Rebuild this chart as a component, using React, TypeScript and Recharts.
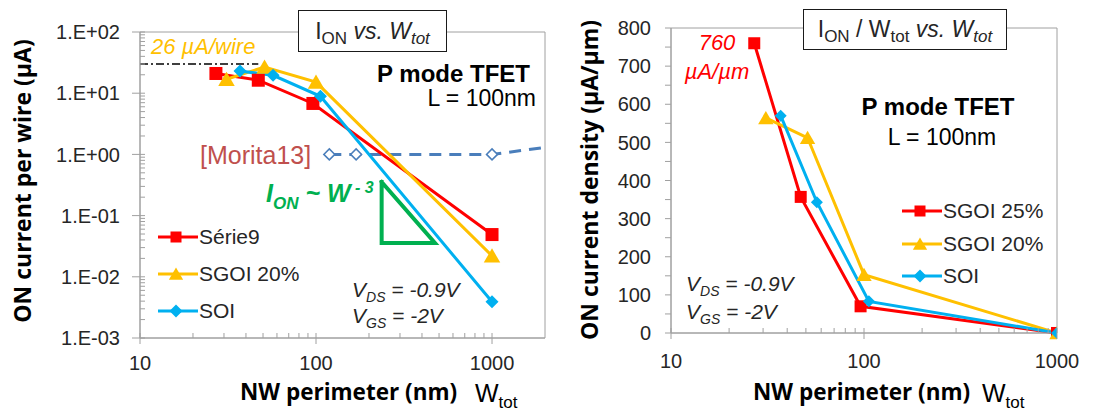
import React from 'react';
import { ComposedChart, Line, XAxis, YAxis, ReferenceArea, ReferenceLine, Legend } from 'recharts';

// NW perimeter (nm) of each device family
const perimSgoi25 = [27, 47, 96, 1000];
const perimSgoi20 = [31, 51, 100, 1000];
const perimSoi = [37, 57, 106, 1000];

// ON current per wire (uA)
const ionSgoi25 = [21, 16.3, 6.8, 0.049];
const ionSgoi20 = [16.9, 26.8, 15.2, 0.022];
const ionSoi = [23, 19.6, 8.9, 0.0039];

// [Morita13] reference points (last one only carries the line to the edge)
const perimMorita = [119, 169, 1000, 2000];
const ionMorita = [1.0, 1.0, 1.0, 1.3];

// 26 uA/wire marker and the W^-3 slope triangle
const limitPerim = [10, 47];
const limitIon = 30;
const slopePerim = [236, 236, 474, 236];
const slopeIon = [0.354, 0.0357, 0.0357, 0.354];

// ON current density (uA/um)
const densSgoi25 = [760, 357, 70, 0.05];
const densSgoi20 = [564, 512, 153, 0.02];
const densSoi = [570, 343, 83, 0.004];

// ticks
const leftYMajor = [0.001, 0.01, 0.1, 1, 10, 100];
const logXMajor = [10, 100, 1000];
const rightYTicks = [0, 50, 100, 150, 200, 250, 300, 350, 400, 450, 500, 550, 600, 650, 700, 750, 800];
const rightYLabels = [0, 100, 200, 300, 400, 500, 600, 700, 800];

const ARIAL = '"Liberation Sans", Arial, sans-serif';
const OPEN = '"Open Sans", sans-serif';
const AXIS = '#a0a0a0';
const TEXT = '#262626';
const RED = '#ff0000';
const YEL = '#ffc000';
const BLUE = '#00b0f0';
const MORITA = '#4a7ebb';
const GREEN = '#00b050';

const pts = (xs: number[], ys: number[]) => xs.map((x, i) => ({ x, y: ys[i] }));

const withMinors = (majors: number[], max: number) => {
  const out: number[] = [];
  majors.forEach((m) => {
    out.push(m);
    [2, 3, 4, 5, 6, 7, 8, 9].forEach((k) => {
      const v = m * k;
      if (v < max) out.push(v);
    });
  });
  return out;
};
const isPow10 = (v: number) => Math.abs(Math.log10(v) - Math.round(Math.log10(v))) < 1e-9;
const sci = (v: number) => {
  const e = Math.round(Math.log10(v));
  return `1.E${e < 0 ? '-' : '+'}${String(Math.abs(e)).padStart(2, '0')}`;
};

const leftYTicks = withMinors(leftYMajor, 100.5);
const leftXTicks = withMinors(logXMajor, 1999);
const rightXTicks = withMinors(logXMajor, 1001);

// ---- tick renderers ----
const LogYTick = (p: any) => {
  const { x, y, payload } = p;
  const major = isPow10(payload.value);
  return (
    <g>
      <line x1={major ? x - 8 : x} x2={x + 5} y1={y} y2={y} stroke={AXIS} />
      {major && (
        <text x={x - 20} y={y} dy="0.36em" textAnchor="end" fontSize={20} fontFamily={ARIAL} fill={TEXT}>
          {sci(payload.value)}
        </text>
      )}
    </g>
  );
};

const LogXTick = (gap: number) => (p: any) => {
  const { x, y, payload } = p;
  const major = isPow10(payload.value);
  return (
    <g>
      <line x1={x} x2={x} y1={y - 5} y2={major ? y + 6 : y} stroke={AXIS} />
      {major && (
        <text x={x} y={y + gap} dy="0.36em" textAnchor="middle" fontSize={20} fontFamily={ARIAL} fill={TEXT}>
          {payload.value}
        </text>
      )}
    </g>
  );
};

const LinYTick = (p: any) => {
  const { x, y, payload } = p;
  const labelled = rightYLabels.includes(payload.value);
  return (
    <g>
      <line x1={x - 6} x2={x} y1={y} y2={y} stroke={AXIS} />
      {labelled && (
        <text x={x - 20} y={y} dy="0.36em" textAnchor="end" fontSize={20} fontFamily={ARIAL} fill={TEXT}>
          {payload.value}
        </text>
      )}
    </g>
  );
};

// ---- markers ----
const Marker = ({ kind, cx, cy, s, color }: any) => {
  if (kind === 'square') return <rect x={cx - s / 2} y={cy - s / 2} width={s} height={s} fill={color} />;
  if (kind === 'triangle')
    return <polygon points={`${cx},${cy - s * 0.5} ${cx + s * 0.55},${cy + s * 0.45} ${cx - s * 0.55},${cy + s * 0.45}`} fill={color} />;
  if (kind === 'hollow')
    return (
      <polygon
        points={`${cx},${cy - s / 2} ${cx + s / 2},${cy} ${cx},${cy + s / 2} ${cx - s / 2},${cy}`}
        fill="#fff"
        stroke={color}
        strokeWidth={1.5}
      />
    );
  return <polygon points={`${cx},${cy - s / 2} ${cx + s / 2},${cy} ${cx},${cy + s / 2} ${cx - s / 2},${cy}`} fill={color} />;
};

const dotOf = (kind: string, s: number, color: string, upto = 99) => (p: any) =>
  p.index < upto ? (
    <Marker key={p.index} kind={kind} cx={p.cx} cy={p.cy} s={s} color={color} />
  ) : (
    <g key={p.index} />
  );

const LegendList = ({ items, rowH }: any) => (
  <div style={{ fontFamily: ARIAL, fontSize: 21, color: TEXT }}>
    {items.map((it: any) => (
      <div key={it.name} style={{ display: 'flex', alignItems: 'center', height: rowH }}>
        <svg width={40} height={16} style={{ marginRight: 1 }}>
          <line x1={0} x2={40} y1={8} y2={8} stroke={it.color} strokeWidth={3} />
          <Marker kind={it.kind} cx={18} cy={8} s={it.kind === 'square' ? 11 : 13} color={it.color} />
        </svg>
        <span>{it.name}</span>
      </div>
    ))}
  </div>
);

// ---- html annotations ----
const Note = ({ x, y, size, anchor = 'start', family = ARIAL, weight = 400, italic = false, color = TEXT, k = 0.49, children }: any) => (
  <div
    style={{
      position: 'absolute',
      left: x,
      top: y - k * size,
      fontSize: size,
      fontFamily: family,
      fontWeight: weight,
      fontStyle: italic ? 'italic' : 'normal',
      color,
      lineHeight: 1,
      whiteSpace: 'nowrap',
      transform: anchor === 'middle' ? 'translateX(-50%)' : anchor === 'end' ? 'translateX(-100%)' : undefined,
    }}
  >
    {children}
  </div>
);

const Sub = ({ size, dy, children, style }: any) => (
  <span style={{ fontSize: size, position: 'relative', top: dy, ...style }}>{children}</span>
);

const Box = ({ x, y, w, h, children }: any) => (
  <div
    style={{
      position: 'absolute',
      left: x,
      top: y,
      width: w,
      height: h,
      boxSizing: 'border-box',
      border: '1.5px solid #1a1a1a',
      background: '#fff',
      display: 'flex',
      alignItems: 'center',
      justifyContent: 'center',
      fontFamily: ARIAL,
      fontSize: 23,
      color: TEXT,
      whiteSpace: 'nowrap',
      lineHeight: 1,
    }}
  >
    <span>{children}</span>
  </div>
);

const YTitle = ({ x, y, children }: any) => (
  <div
    style={{
      position: 'absolute',
      left: x,
      top: y,
      transform: 'translate(-50%, -50%) rotate(-90deg)',
      fontFamily: OPEN,
      fontWeight: 700,
      fontSize: 23,
      color: '#000',
      whiteSpace: 'nowrap',
      lineHeight: 1.2,
    }}
  >
    {children}
  </div>
);

const Vgs = ({ x, y1, y2 }: any) => (
  <>
    <Note x={x} y={y1} size={21} italic>
      V<Sub size={14} dy={5}>DS</Sub> = -0.9V
    </Note>
    <Note x={x} y={y2} size={21} italic>
      V<Sub size={14} dy={5}>GS</Sub> = -2V
    </Note>
  </>
);

const XTitle = ({ x, wx, y }: any) => (
  <>
    <Note x={x} y={y} size={22.5} family={OPEN} weight={700} color="#000" k={0.531}>
      NW perimeter (nm)
    </Note>
    <Note x={wx} y={y} size={25} color="#000">
      W<Sub size={17} dy={6}>tot</Sub>
    </Note>
  </>
);

const leftLegend = [
  { name: 'Série9', color: RED, kind: 'square' },
  { name: 'SGOI 20%', color: YEL, kind: 'triangle' },
  { name: 'SOI', color: BLUE, kind: 'diamond' },
];
const rightLegend = [
  { name: 'SGOI 25%', color: RED, kind: 'square' },
  { name: 'SGOI 20%', color: YEL, kind: 'triangle' },
  { name: 'SOI', color: BLUE, kind: 'diamond' },
];

export default function App() {
  return (
    <div style={{ position: 'absolute', left: 0, top: 0, width: 1108, height: 414, background: '#fff', overflow: 'hidden' }}>
      <div style={{ position: 'absolute', left: 0, top: 0 }}>
        <ComposedChart width={560} height={414} margin={{ top: 32, right: 15, bottom: 0, left: 0 }}>
          <XAxis
            type="number"
            dataKey="x"
            scale="log"
            domain={[10, 2000]}
            allowDataOverflow
            ticks={leftXTicks}
            interval={0}
            height={76}
            axisLine={{ stroke: AXIS }}
            tickLine={false}
            tickSize={0}
            tickMargin={0}
            tick={LogXTick(25)}
          />
          <YAxis
            type="number"
            scale="log"
            domain={[0.001, 100]}
            allowDataOverflow
            ticks={leftYTicks}
            interval={0}
            width={140}
            axisLine={{ stroke: AXIS }}
            tickLine={false}
            tickSize={0}
            tickMargin={0}
            tick={LogYTick}
          />
          <ReferenceArea x1={10} x2={2000} y1={0.001} y2={100} fill="none" stroke={AXIS} />
          <ReferenceLine
            segment={[
              { x: limitPerim[0], y: limitIon },
              { x: limitPerim[1], y: limitIon },
            ]}
            stroke="#000"
            strokeWidth={1.5}
            strokeDasharray="8 3 2 3"
          />
          <Line
            data={pts(perimMorita, ionMorita)}
            dataKey="y"
            stroke={MORITA}
            strokeWidth={3}
            strokeDasharray="12 8"
            dot={dotOf('hollow', 11, MORITA, 3)}
            isAnimationActive={false}
          />
          <Line
            data={pts(slopePerim, slopeIon)}
            dataKey="y"
            stroke={GREEN}
            strokeWidth={4}
            strokeLinecap="square"
            dot={false}
            isAnimationActive={false}
          />
          <Line data={pts(perimSgoi25, ionSgoi25)} dataKey="y" stroke={RED} strokeWidth={3} dot={dotOf('square', 13, RED)} isAnimationActive={false} />
          <Line data={pts(perimSgoi20, ionSgoi20)} dataKey="y" stroke={YEL} strokeWidth={3} dot={dotOf('triangle', 15, YEL)} isAnimationActive={false} />
          <Line data={pts(perimSoi, ionSoi)} dataKey="y" stroke={BLUE} strokeWidth={3} dot={dotOf('diamond', 13, BLUE)} isAnimationActive={false} />
          <Legend
            layout="horizontal"
            align="center"
            verticalAlign="middle"
            wrapperStyle={{ left: 158, top: 218, width: 'auto', height: 'auto' }}
            content={() => <LegendList items={leftLegend} rowH={37} />}
          />
        </ComposedChart>
      </div>

      <div style={{ position: 'absolute', left: 560, top: 0 }}>
        <ComposedChart width={548} height={414} margin={{ top: 28, right: 51, bottom: 0, left: 0 }}>
          <XAxis
            type="number"
            dataKey="x"
            scale="log"
            domain={[10, 1000]}
            allowDataOverflow
            ticks={rightXTicks}
            interval={0}
            height={81}
            axisLine={{ stroke: AXIS }}
            tickLine={false}
            tickSize={0}
            tickMargin={0}
            tick={LogXTick(28)}
          />
          <YAxis
            type="number"
            domain={[0, 800]}
            ticks={rightYTicks}
            interval={0}
            width={111}
            axisLine={{ stroke: AXIS }}
            tickLine={false}
            tickSize={0}
            tickMargin={0}
            tick={LinYTick}
          />
          <ReferenceArea x1={10} x2={1000} y1={0} y2={800} fill="none" stroke={AXIS} />
          <Line data={pts(perimSgoi25, densSgoi25)} dataKey="y" stroke={RED} strokeWidth={3} dot={dotOf('square', 12, RED)} isAnimationActive={false} />
          <Line data={pts(perimSgoi20, densSgoi20)} dataKey="y" stroke={YEL} strokeWidth={3} dot={dotOf('triangle', 14, YEL)} isAnimationActive={false} />
          <Line data={pts(perimSoi, densSoi)} dataKey="y" stroke={BLUE} strokeWidth={3} dot={dotOf('diamond', 12, BLUE)} isAnimationActive={false} />
          <Legend
            layout="horizontal"
            align="center"
            verticalAlign="middle"
            wrapperStyle={{ left: 342, top: 195, width: 'auto', height: 'auto' }}
            content={() => <LegendList items={rightLegend} rowH={32.5} />}
          />
        </ComposedChart>
      </div>

      {/* left panel annotations */}
      <YTitle x={23} y={181}>ON current per wire (µA)</YTitle>
      <XTitle x={240} wx={475} y={393} />
      <Box x={298} y={10} w={149} h={42}>
        I<Sub size={17} dy={5}>ON</Sub> <i>vs. W<Sub size={17} dy={5}>tot</Sub></i>
      </Box>
      <Note x={151} y={47} size={22} italic color={YEL}>26 µA/wire</Note>
      <Note x={200} y={155} size={25} color="#c0504d">[Morita13]</Note>
      <Note x={530} y={74} size={24} weight={700} anchor="end" color="#000">P mode TFET</Note>
      <Note x={536} y={98} size={23} anchor="end" color="#000">L = 100nm</Note>
      <Note x={266} y={193} size={25} weight={700} italic color={GREEN}>
        I<Sub size={17} dy={7}>ON</Sub> ~ W<Sub size={16} dy={-9}> - 3</Sub>
      </Note>
      <Vgs x={352} y1={289} y2={315} />

      {/* right panel annotations */}
      <YTitle x={590} y={180}>ON current density (µA/µm)</YTitle>
      <XTitle x={753} wx={982} y={393} />
      <Box x={803} y={9} w={204} h={41}>
        I<Sub size={17} dy={5}>ON</Sub> / W<Sub size={17} dy={5}>tot</Sub> <i>vs. W<Sub size={17} dy={5}>tot</Sub></i>
      </Box>
      <Note x={717} y={42.5} size={22} italic anchor="middle" color={RED}>760</Note>
      <Note x={717} y={72} size={22} italic anchor="middle" color={RED}>µA/µm</Note>
      <Note x={938} y={107} size={24} weight={700} anchor="middle" color="#000">P mode TFET</Note>
      <Note x={942} y={137.5} size={23} anchor="middle" color="#000">L = 100nm</Note>
      <Vgs x={686} y1={283} y2={311} />
    </div>
  );
}
